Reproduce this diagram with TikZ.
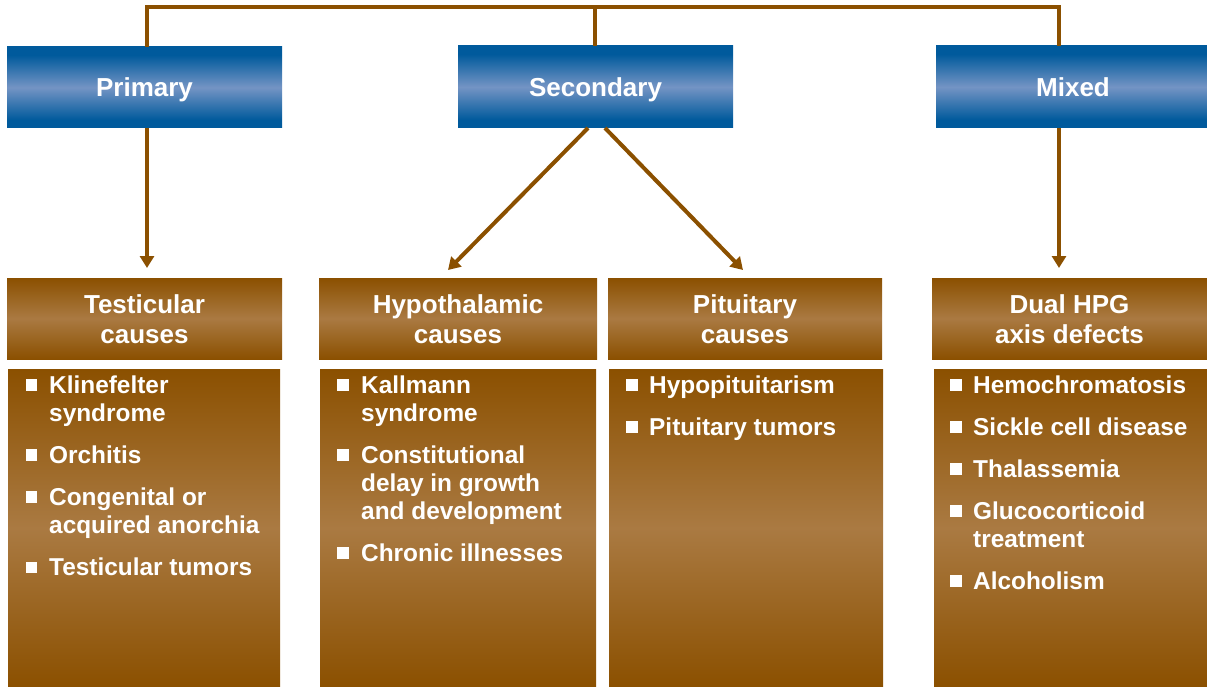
\documentclass[tikz,border=0pt]{standalone}
\usepackage{fontspec}
\setmainfont{Liberation Sans}
\usetikzlibrary{arrows.meta}
\definecolor{brn}{RGB}{139,80,0}
\definecolor{brnlt}{RGB}{170,122,66}
\definecolor{bdk}{RGB}{0,90,156}
\definecolor{blt}{RGB}{116,148,196}
\pgfdeclareverticalshading{blueshade}{100bp}{color(0bp)=(bdk); color(25bp)=(bdk); color(30bp)=(bdk); color(50bp)=(blt); color(70bp)=(bdk); color(75bp)=(bdk); color(100bp)=(bdk)}
\pgfdeclareverticalshading{brownshade}{100bp}{color(0bp)=(brn); color(25bp)=(brn); color(50bp)=(brnlt); color(75bp)=(brn); color(100bp)=(brn)}
\newcommand\mkbox[6]{\node[#1, minimum width={#5-#3}, minimum height={#6-#4}] (#2) at ({(#3+#5)/2},{(#4+#6)/2}) {};}
\tikzset{
  bx/.style={rectangle, inner sep=0pt, outer sep=0pt, draw=none},
  bluebox/.style={bx, shading=blueshade},
  brownbox/.style={bx, shading=brownshade},
  conn/.style={draw=brn, line width=4pt},
  arr/.style={conn, -{Triangle[width=14pt,length=12pt]}},
  hdr/.style={font=\fontsize{26}{30}\selectfont\bfseries, text=white, anchor=base, inner sep=0pt},
  itm/.style={font=\fontsize{24.4}{28}\selectfont\bfseries, text=white, anchor=base west, inner sep=0pt},
  bul/.style={rectangle, fill=white, draw=none, minimum size=11.5pt, inner sep=0pt}
}
\begin{document}
\begin{tikzpicture}[x=1pt, y=-1pt]
\useasboundingbox (0,0) rectangle (1207,687);
% top boxes
\mkbox{bluebox}{primary}{7}{47}{282}{128}
\mkbox{bluebox}{secondary}{458}{46}{733}{128}
\mkbox{bluebox}{mixed}{936}{46}{1207}{128}
% headers
\mkbox{brownbox}{testh}{7}{278}{282}{359}
\mkbox{brownbox}{hypoh}{319}{278}{597}{359}
\mkbox{brownbox}{pituh}{608}{278}{882}{359}
\mkbox{brownbox}{dualh}{932}{278}{1207}{359}
% bodies
\mkbox{brownbox}{testb}{8}{369}{280}{687}
\mkbox{brownbox}{hypob}{320}{369}{596}{687}
\mkbox{brownbox}{pitub}{609}{369}{883}{687}
\mkbox{brownbox}{dualb}{934}{369}{1207}{687}

% connectors
\coordinate (pt) at (147,7);
\coordinate (st) at (595,7);
\coordinate (mt) at (1059,7);
\draw[conn] (primary.north -| pt) -- (pt) -- (mt) -- (mixed.north -| mt);
\draw[conn] (st) -- (secondary.north -| st);
\draw[arr, shorten >=10pt] (primary.south -| pt) -- (testh.north -| pt);
\draw[arr, shorten >=10pt] (mixed.south -| mt) -- (dualh.north -| mt);
\coordinate (sl) at (588,128);
\coordinate (sr) at (605,128);
\coordinate (hl) at (448,270);
\coordinate (pr) at (743,270);
\draw[arr] (sl) -- (hl);
\draw[arr] (sr) -- (pr);

% top labels
\node[hdr] (tprim) at (144.5,97) {Primary};
\node[hdr] (tsec) at (595.5,97) {Secondary};
\node[hdr] (tmix) at (1073,97) {Mixed};
% header labels
\node[hdr] (ttest1) at (144.5,313) {Testicular};
\node[hdr] (ttest2) at (144.5,343) {causes};
\node[hdr] (thypo1) at (458,313) {Hypothalamic};
\node[hdr] (thypo2) at (458,343) {causes};
\node[hdr] (tpitu1) at (745,313) {Pituitary};
\node[hdr] (tpitu2) at (745,343) {causes};
\node[hdr] (tdual1) at (1069.5,313) {Dual HPG};
\node[hdr] (tdual2) at (1069.5,343) {axis defects};

% column 1
\node[bul] (b11) at (31.5,385) {};
\node[itm] (i11a) at (49,393) {Klinefelter};
\node[itm] (i11b) at (49,421) {syndrome};
\node[bul] (b12) at (31.5,455) {};
\node[itm] (i12a) at (49,463) {Orchitis};
\node[bul] (b13) at (31.5,497) {};
\node[itm] (i13a) at (49,505) {Congenital or};
\node[itm] (i13b) at (49,533) {acquired anorchia};
\node[bul] (b14) at (31.5,567.5) {};
\node[itm] (i14a) at (49,575.5) {Testicular tumors};

% column 2
\node[bul] (b21) at (342.8,385) {};
\node[itm] (i21a) at (361,393) {Kallmann};
\node[itm] (i21b) at (361,421) {syndrome};
\node[bul] (b22) at (342.8,455) {};
\node[itm] (i22a) at (361,463) {Constitutional};
\node[itm] (i22b) at (361,491) {delay in growth};
\node[itm] (i22c) at (361,519) {and development};
\node[bul] (b23) at (342.8,553) {};
\node[itm] (i23a) at (361,561) {Chronic illnesses};

% column 3
\node[bul] (b31) at (632,385) {};
\node[itm] (i31a) at (649,393) {Hypopituitarism};
\node[bul] (b32) at (632,427) {};
\node[itm] (i32a) at (649,435) {Pituitary tumors};

% column 4
\node[bul] (b41) at (956,385) {};
\node[itm] (i41a) at (973,393) {Hemochromatosis};
\node[bul] (b42) at (956,427) {};
\node[itm] (i42a) at (973,435) {Sickle cell disease};
\node[bul] (b43) at (956,469) {};
\node[itm] (i43a) at (973,477) {Thalassemia};
\node[bul] (b44) at (956,511) {};
\node[itm] (i44a) at (973,519) {Glucocorticoid};
\node[itm] (i44b) at (973,547) {treatment};
\node[bul] (b45) at (956,581) {};
\node[itm] (i45a) at (973,589) {Alcoholism};
\end{tikzpicture}
\end{document}
